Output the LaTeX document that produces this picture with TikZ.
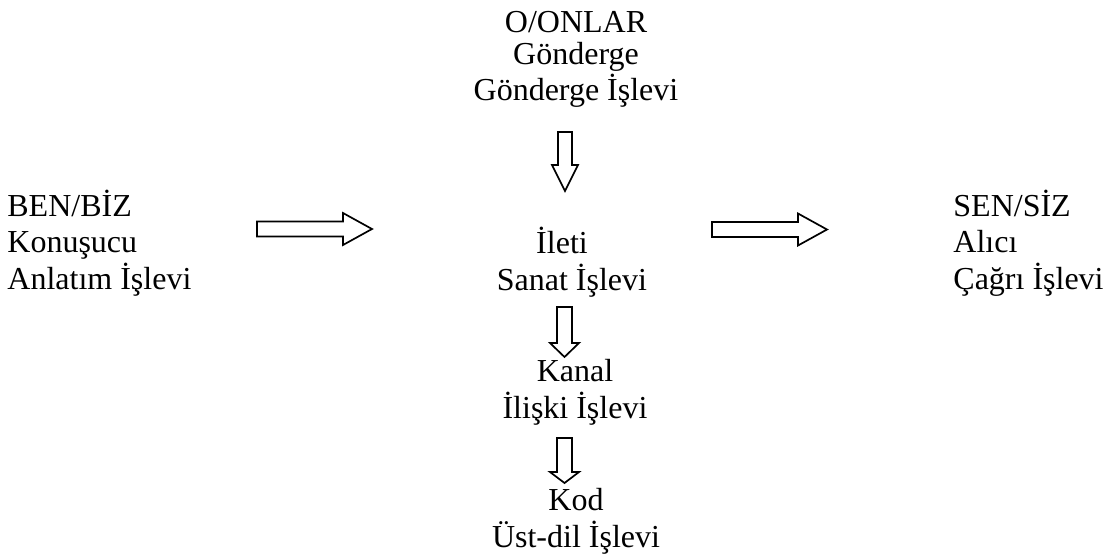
\documentclass[tikz,border=0pt]{standalone}
\usepackage{fontspec}
\setmainfont{Liberation Serif}
\usetikzlibrary{positioning, calc}
\tikzset{
    lbl/.style={inner sep=0pt, font=\fontsize{16}{18.25}\selectfont},
    toplbl/.style={lbl, font=\fontsize{16}{16.3}\selectfont},
    hollow/.style={draw=black, line width=0.85pt, fill=white, line join=miter}
}
% start, angle, length, head length, shaft half width, head half width
\newcommand{\hollowarrow}[6]{%
    \draw[hollow, shift={#1}, rotate=#2] (0,-#5) -- ({#3-#4},-#5) -- ({#3-#4},-#6) -- (#3,0)
        -- ({#3-#4},#6) -- ({#3-#4},#5) -- (0,#5) -- cycle;}

\begin{document}
\begin{tikzpicture}[x=0.5pt, y=-0.5pt]
    \useasboundingbox (0,0) rectangle (1113,557);

    % --- TEXT BLOCKS (base = last line) ---
    \node[lbl, align=left, anchor=base west] (sender) at (7,289) {BEN/BİZ\\Konuşucu\\Anlatım İşlevi};
    \node[lbl, align=left, anchor=base west] (receiver) at (953,289) {SEN/SİZ\\Alıcı\\Çağrı İşlevi};
    \node[toplbl, align=center, anchor=base] (referent) at (576,100) {O/ONLAR\\Gönderge\\Gönderge İşlevi};
    \node[lbl, align=center, anchor=base] (message) at (572,290) {İleti\hspace*{10pt}\\Sanat İşlevi};
    \node[lbl, align=center, anchor=base] (channel) at (575,418) {Kanal\\İlişki İşlevi};
    \node[lbl, align=center, anchor=base] (code) at (576,547) {Kod\\Üst-dil İşlevi};

    % --- BLOCK ARROWS ---
    \coordinate (toMsg) at (257,229);
    \coordinate (toRcv) at (712,229.5);
    \coordinate (fromRef) at (565,132);
    \coordinate (toChan) at (564.5,307);
    \coordinate (toCode) at (564.5,438);

    \hollowarrow{(toMsg)}{0}{115}{29}{7.5}{16}
    \hollowarrow{(toRcv)}{0}{115}{29}{7.5}{16}
    \hollowarrow{(fromRef)}{-90}{59}{26}{7}{13}
    \hollowarrow{(toChan)}{-90}{50}{14}{7.5}{14.5}
    \hollowarrow{(toCode)}{-90}{45}{11}{7.5}{14.5}
\end{tikzpicture}
\end{document}
